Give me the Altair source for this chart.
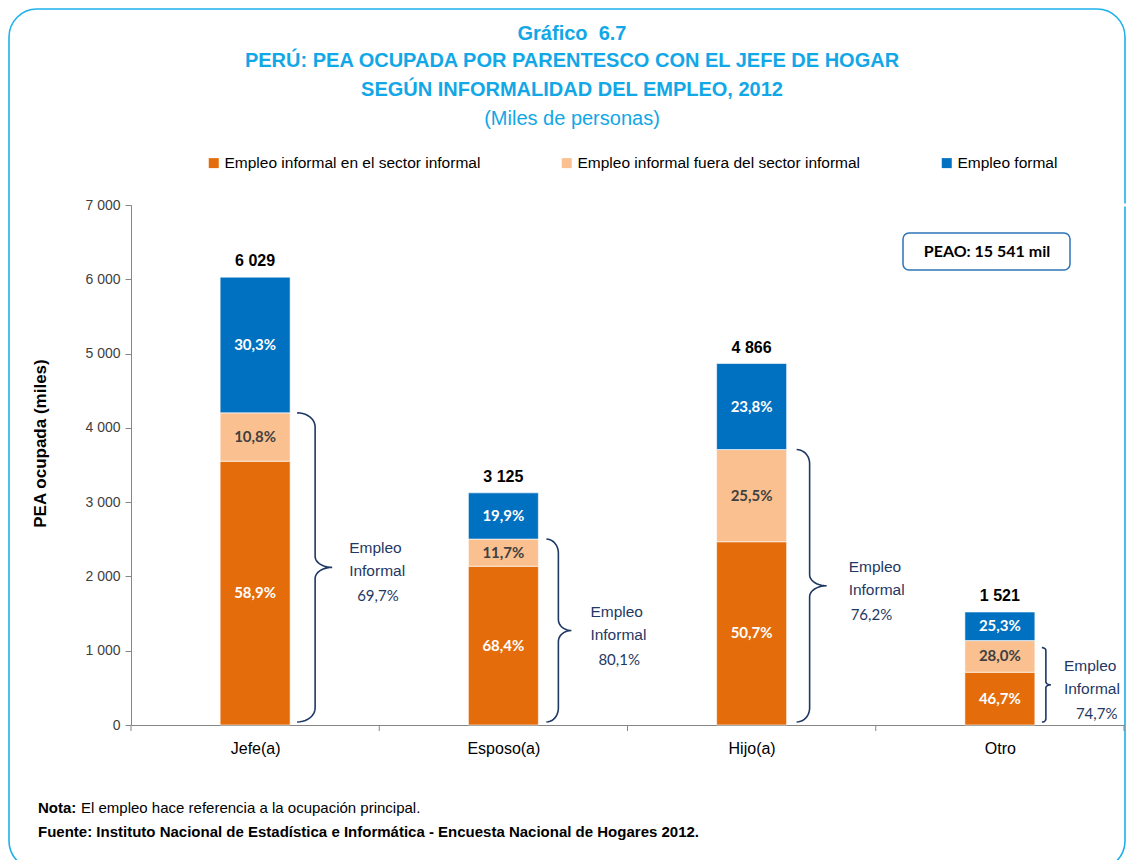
import math
import altair as alt
import pandas as pd

# ---------------- data ----------------
categories = ["Jefe(a)", "Esposo(a)", "Hijo(a)", "Otro"]
totals = [6029, 3125, 4866, 1521]
segments = ["Empleo informal en el sector informal",
            "Empleo informal fuera del sector informal",
            "Empleo formal"]
pct_informal_sector = [58.9, 68.4, 50.7, 46.7]
pct_informal_outside = [10.8, 11.7, 25.5, 28.0]
pct_formal = [30.3, 19.9, 23.8, 25.3]
pct_informal_total = [69.7, 80.1, 76.2, 74.7]
peao_label = "PEAO: 15 541 mil"

seg_colors = ["#E46C0A", "#FAC090", "#0070C0"]
seg_text_colors = ["#FFFFFF", "#404040", "#FFFFFF"]

# ---------------- layout constants ----------------
W, H = 993, 520
PAD_L, PAD_T, PAD_R, PAD_B = 123, 197, 2, 135
YMAX = 7000
NCAT = len(categories)
NARROW = "Liberation Sans Narrow, Arial Narrow, Liberation Sans, Arial, sans-serif"
CAL = "Lato, Carlito, Calibri, Open Sans, sans-serif"
TITLE_C = "#12A7E6"
NAVY = "#1F3864"
AXIS_C = "#868686"

def pct_str(p):
    return f"{p:.1f}".replace(".", ",") + "%"

def num_str(n):
    return f"{n:,}".replace(",", " ")

# ---------------- tables ----------------
rows = []
for i, cat in enumerate(categories):
    pcts = [pct_informal_sector[i], pct_informal_outside[i], pct_formal[i]]
    start = 0.0
    for j, seg in enumerate(segments):
        v = totals[i] * pcts[j] / 100.0
        rows.append({"cat": cat, "xc": i + 0.5, "seg": seg, "order": j, "value": v,
                     "mid": start + v / 2, "lbl": pct_str(pcts[j]),
                     "tcol": seg_text_colors[j]})
        start += v
df = pd.DataFrame(rows)
tot_df = pd.DataFrame({"cat": categories, "xc": [i + 0.5 for i in range(NCAT)],
                       "total": totals, "lbl": [num_str(t) for t in totals]})
tick_df = pd.DataFrame({"b": list(range(NCAT + 1))})

# braces (decoration built from informal totals)
ux = NCAT / W
uy = YMAX / H
start_off = [7, 8, 10, 7]
depth_v = [18, 12, 13, 4]
depth_t = [35, 25, 30, 9]
hook_r = [14, 14, 14, 3]
tip_r = [11, 11, 11, 3]
top_inset = [0, 0, 0, 7]
bottom_inset = 3
text_off = [94, 87, 97, 64]
pct_indent = [8, 8, 2, 12]

brace_rows, btxt_rows = [], []
for k, cat in enumerate(categories):
    cx = k + 0.5
    x0 = cx + (35 + start_off[k]) * ux
    xv = x0 + depth_v[k] * ux
    xt = x0 + depth_t[k] * ux
    top = totals[k] * pct_informal_total[k] / 100.0 - top_inset[k] * uy
    bot = bottom_inset * uy
    mid = (top + bot) / 2
    ry, rt = hook_r[k] * uy, tip_r[k] * uy
    pts = []
    n = 10
    for s in range(n + 1):  # top hook
        t = s / n * math.pi / 2
        pts.append((x0 + (xv - x0) * math.sin(t), top - ry + ry * math.cos(t)))
    for s in range(n + 1):  # into tip from above
        t = s / n * math.pi / 2
        pts.append((xt - (xt - xv) * math.cos(t), mid + rt - rt * math.sin(t)))
    for s in range(n + 1):  # out of tip downward
        t = s / n * math.pi / 2
        pts.append((xt - (xt - xv) * math.sin(t), mid - rt + rt * math.cos(t)))
    for s in range(n + 1):  # bottom hook
        t = s / n * math.pi / 2
        pts.append((x0 + (xv - x0) * math.cos(t), bot + ry - ry * math.sin(t)))
    for idx, (px, py) in enumerate(pts):
        brace_rows.append({"cat": cat, "i": idx, "bx": px, "by": py})
    tx = cx + text_off[k] * ux
    btxt_rows.append({"cat": cat, "tx": tx, "tx2": tx + pct_indent[k] * ux,
                      "ty": mid, "pct": pct_str(pct_informal_total[k]),
                      "l1": "Empleo", "l2": "Informal"})
brace_df = pd.DataFrame(brace_rows)
btxt_df = pd.DataFrame(btxt_rows)

# ---------------- scales / axes ----------------
yscale = alt.Scale(domain=[0, YMAX], nice=False, zero=True)
xscale = alt.Scale(domain=[0, NCAT], nice=False, zero=False, padding=0)

cat_js = "[" + ",".join("'" + c + "'" for c in categories) + "]"
X_AX = alt.Axis(orient="bottom", values=[i + 0.5 for i in range(NCAT)], ticks=False,
                grid=False, labelExpr=f"{cat_js}[floor(datum.value)]",
                labelFont=NARROW, labelFontSize=16, labelColor="#000000",
                labelPadding=15, domainColor=AXIS_C, title=None,
                labelFlush=False, labelOverlap=False)
Y_AX = alt.Axis(orient="left", values=list(range(0, YMAX + 1, 1000)), grid=False,
                title="PEA ocupada (miles)",
                labelExpr="replace(format(datum.value, ','), ',', ' ')",
                labelFont=NARROW, labelFontSize=14, labelColor="#404040",
                labelPadding=5, tickSize=6, tickColor=AXIS_C,
                domainColor=AXIS_C, titleFont=NARROW,
                titleFontSize=17, titleFontWeight="bold",
                titleColor="#000000", titleX=-91, titleY=238,
                titleAngle=-90, titleAlign="center", titleBaseline="middle")

def XQ(field):
    return alt.X(field, scale=xscale, axis=X_AX, title=None)

def YQ(field, **kw):
    return alt.Y(field, scale=yscale, axis=Y_AX, title="PEA ocupada (miles)", **kw)

bars = alt.Chart(df).mark_bar(size=70, stroke="#FFFFFF", strokeWidth=0.6).encode(
    x=XQ("xc:Q"),
    y=YQ("value:Q", stack="zero"),
    color=alt.Color("seg:N", sort=segments,
                    scale=alt.Scale(domain=segments, range=seg_colors),
                    legend=alt.Legend(title=None, orient="none", legendX=75,
                                      legendY=-50, direction="horizontal",
                                      columns=3, symbolType="square",
                                      symbolSize=100, symbolStrokeWidth=0,
                                      labelFont=NARROW, labelFontSize=15.5,
                                      labelColor="#000000", labelOffset=3,
                                      columnPadding=78, labelLimit=400,
                                      padding=0)),
    order=alt.Order("order:Q"),
)

ticks = alt.Chart(tick_df).mark_rule(color=AXIS_C, strokeWidth=1).encode(
    x=XQ("b:Q"), y=alt.value(H), y2=alt.value(H + 6))

seg_text = alt.Chart(df).mark_text(font=CAL, fontSize=15, fontWeight="bold").encode(
    x=XQ("xc:Q"), y=YQ("mid:Q"), text="lbl:N",
    color=alt.Color("tcol:N", scale=None))

tot_text = alt.Chart(tot_df).mark_text(font=NARROW, fontSize=16, fontWeight="bold",
                                       color="#000000", dy=-11,
                                       baseline="alphabetic").encode(
    x=XQ("xc:Q"), y=YQ("total:Q"), text="lbl:N")

braces = alt.Chart(brace_df).mark_line(color=NAVY, strokeWidth=1.6).encode(
    x=XQ("bx:Q"), y=YQ("by:Q"), detail="cat:N", order="i:Q")

def btxt(field, xfield, dy, font, size):
    return alt.Chart(btxt_df).mark_text(align="left", baseline="middle", dy=dy,
                                        font=font, fontSize=size, color=NAVY).encode(
        x=XQ(f"{xfield}:Q"), y=YQ("ty:Q"), text=field)

b1 = btxt("l1:N", "tx", -19, NARROW, 15.5)
b2 = btxt("l2:N", "tx", 4, NARROW, 15.5)
b3 = btxt("pct:N", "tx2", 29, CAL, 15)

# ---------------- annotations (pixel placed) ----------------
def txt(s, x, y, size, color, weight="normal", font=NARROW, align="center",
        baseline="alphabetic"):
    return alt.Chart(pd.DataFrame({"t": [s]})).mark_text(
        font=font, fontSize=size, fontWeight=weight, color=color, align=align,
        baseline=baseline).encode(x=alt.value(x), y=alt.value(y), text="t:N")

border = alt.Chart(pd.DataFrame({"a": [0]})).mark_rect(
    fillOpacity=0, stroke="#1EB1EC", strokeWidth=1.6, cornerRadius=28).encode(
    x=alt.value(-122), x2=alt.value(994), y=alt.value(-196), y2=alt.value(664))

# white mask over the unwanted frame line along the top of the plot area
top_mask = alt.Chart(pd.DataFrame({"a": [0]})).mark_rule(
    color="#FFFFFF", strokeWidth=3).encode(
    x=alt.value(1), x2=alt.value(W + 2), y=alt.value(0))

peao_box = alt.Chart(pd.DataFrame({"a": [0]})).mark_rect(
    fill="#FFFFFF", stroke="#2E75B6", strokeWidth=1.5, cornerRadius=6).encode(
    x=alt.value(772), x2=alt.value(939), y=alt.value(28), y2=alt.value(65))

ann = [
    txt("Gráfico\u00a0\u00a06.7", 441, -165, 20, TITLE_C, "bold"),
    txt("PERÚ: PEA OCUPADA POR PARENTESCO CON EL JEFE DE HOGAR", 441, -138, 20, TITLE_C, "bold"),
    txt("SEGÚN INFORMALIDAD DEL EMPLEO, 2012", 441, -109, 20, TITLE_C, "bold"),
    txt("(Miles de personas)", 441, -80, 20, TITLE_C),
    txt(peao_label, 856, 47, 16, "#000000", "bold", CAL, baseline="middle"),
    txt("Nota:", -93, 608, 15, "#000000", "bold", align="left"),
    txt("El empleo hace referencia a la ocupación principal.", -50, 608, 15, "#000000", align="left"),
    txt("Fuente: Instituto Nacional de Estadística e Informática - Encuesta Nacional de Hogares 2012.",
        -93, 632, 15, "#000000", "bold", align="left"),
]

chart = alt.layer(border, bars, ticks, seg_text, tot_text, braces, b1, b2, b3,
                  peao_box, top_mask, *ann).properties(
    width=W, height=H,
    padding={"left": PAD_L, "top": PAD_T, "right": PAD_R, "bottom": PAD_B},
    autosize=alt.AutoSizeParams(type="none"),
).configure_view(
    stroke="transparent", strokeWidth=0, strokeOpacity=0
).configure_axisTop(disable=True).configure_axisRight(disable=True).configure(
    background="#FFFFFF")

chart.save("out.html", embed_options={"renderer": "svg", "actions": False})
